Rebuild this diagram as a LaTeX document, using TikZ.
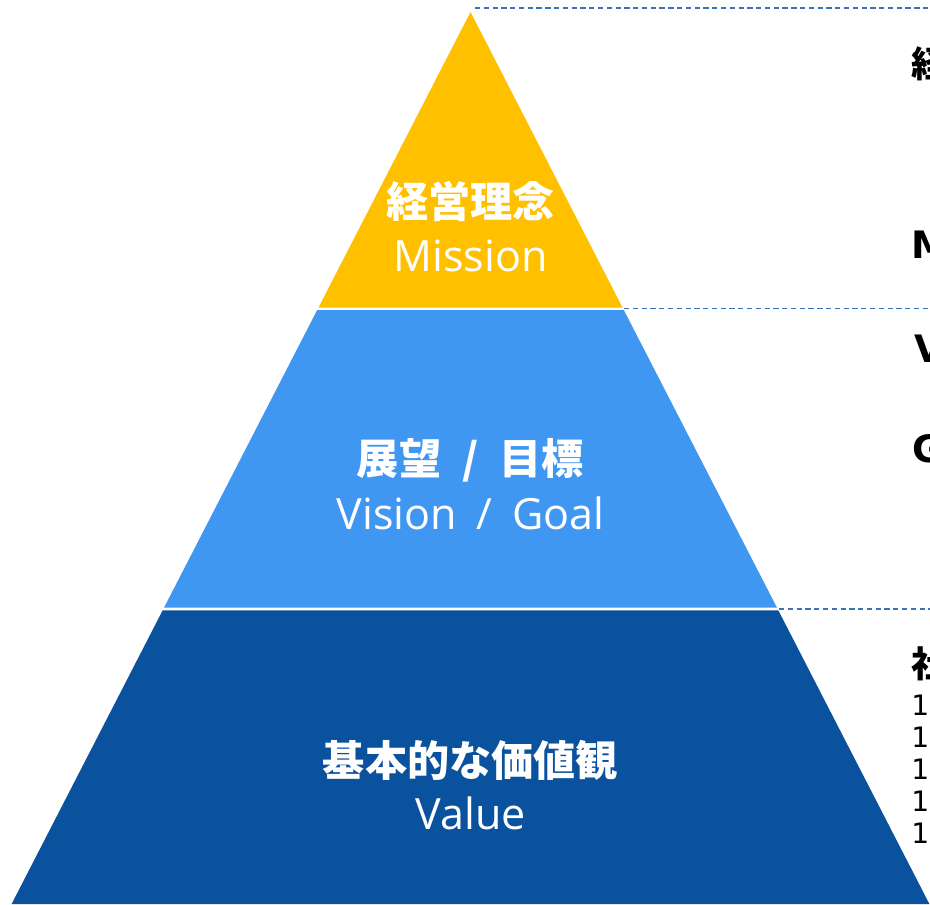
\documentclass[tikz,border=0pt]{standalone}
\usepackage{fontspec}
\newfontfamily\cjk{Noto Sans CJK JP}
\newfontfamily\lat{Open Sans}
\newfontfamily\dv{DejaVu Sans}
\definecolor{pyyellow}{HTML}{FFC000}
\definecolor{pylight}{HTML}{4097F2}
\definecolor{pydark}{HTML}{0B529E}
\definecolor{dashblue}{HTML}{3A72B8}
\tikzset{
  x=0.02cm, y=-0.02cm,
  jp/.style={inner sep=0pt, text=white, font=\cjk\bfseries\fontsize{24}{28}\selectfont},
  en/.style={inner sep=0pt, anchor=base, text=white, font=\lat\fontsize{24.5}{29}\selectfont},
  sidejp/.style={inner sep=0pt, anchor=west, font=\cjk\bfseries\fontsize{20.5}{24}\selectfont},
  sideen/.style={inner sep=0pt, anchor=base west, font=\dv\bfseries\fontsize{21.5}{25}\selectfont},
  sidenum/.style={inner sep=0pt, anchor=base west, font=\dv\fontsize{16}{19}\selectfont},
  guide/.style={draw=dashblue, line width=0.6pt, dash pattern=on 3pt off 2pt}
}
\begin{document}
\begin{tikzpicture}
\useasboundingbox (0,0) rectangle (930,904);
\clip (0,0) rectangle (930,904);
% pyramid layers
\fill[pyyellow] (470.5,12) -- (622.5,307.5) -- (318.5,307.5) -- cycle;
\fill[pylight] (317.2,310) -- (623.8,310) -- (776.9,607.5) -- (164.1,607.5) -- cycle;
\fill[pydark] (162.7,610.3) -- (778.3,610.3) -- (929.4,904) -- (11.6,904) -- cycle;
% dashed guides
\coordinate (g1a) at (475,8);   \coordinate (g1b) at (930,8);
\coordinate (g2a) at (624,308.7); \coordinate (g2b) at (930,308.7);
\coordinate (g3a) at (779,609); \coordinate (g3b) at (930,609);
\draw[guide] (g1a) -- (g1b);
\draw[guide] (g2a) -- (g2b);
\draw[guide] (g3a) -- (g3b);
% layer labels
\node[jp] (m1) at (470.5,201) {経営理念};
\node[en] (m2) at (470.5,271) {Mission};
\node[jp] (v1) at (470.5,460) {展望\hspace{0.5em}/\hspace{0.5em}目標};
\node[en] (v2) at (470.5,529) {Vision\hspace{0.46em}/\hspace{0.46em}Goal};
\node[jp] (b1) at (470.5,760) {基本的な価値観};
\node[en] (b2) at (470.5,829) {Value};
% right-hand texts (cut off by the picture edge)
\node[sidejp] (r1) at (911,63.5) {経};
\node[sideen] (r2) at (911.5,258) {M};
\node[sideen] (r3) at (914,362) {V};
\node[sideen] (r4) at (912,462) {G};
\node[sidejp] (r5) at (911,663.5) {社};
\node[sidenum] (n1) at (911,715) {1};
\node[sidenum] (n2) at (911,747) {1};
\node[sidenum] (n3) at (911,779) {1};
\node[sidenum] (n4) at (911,811) {1};
\node[sidenum] (n5) at (911,843) {1};
\end{tikzpicture}
\end{document}
